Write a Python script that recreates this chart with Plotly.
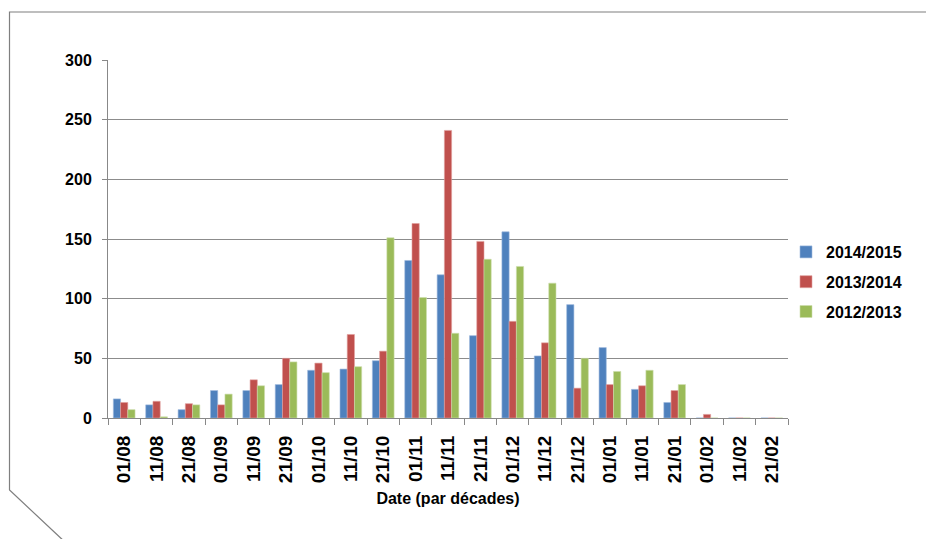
import plotly.graph_objects as go

categories = ["01/08", "11/08", "21/08", "01/09", "11/09", "21/09", "01/10", "11/10",
              "21/10", "01/11", "11/11", "21/11", "01/12", "11/12", "21/12", "01/01",
              "11/01", "21/01", "01/02", "11/02", "21/02"]
s2014_2015 = [16, 11, 7, 23, 23, 28, 40, 41, 48, 132, 120, 69, 156, 52, 95, 59, 24, 13, 0, 0, 0]
s2013_2014 = [13, 14, 12, 11, 32, 50, 46, 70, 56, 163, 241, 148, 81, 63, 25, 28, 27, 23, 3, 0, 0]
s2012_2013 = [7, 1, 11, 20, 27, 47, 38, 43, 151, 101, 71, 133, 127, 113, 50, 39, 40, 28, 0, 0, 0]
y_ticks = [0, 50, 100, 150, 200, 250, 300]

series = [("2014/2015", s2014_2015, "#4F81BD", "#9DB9DE"),
          ("2013/2014", s2013_2014, "#C0504D", "#E0A09E"),
          ("2012/2013", s2012_2013, "#9BBB59", "#CDDDAC")]

fig = go.Figure()
for name, vals, col, edge in series:
    fig.add_trace(go.Bar(x=categories, y=vals, name=name, legendgroup=name,
                         marker=dict(color=col, line=dict(color=edge, width=0.6))))

OFF = 8  # page body margin
W, H = 934, 539
# plot area in screen pixels
X0, X1, Y0, Y1 = 108, 788, 60, 418
L, T = X0 - OFF, Y0 - OFF
R = W - L - (X1 - X0)
B = H - T - (Y1 - Y0)
pw, ph = X1 - X0, Y1 - Y0

def px(x):
    return (x - X0) / pw

def py(y):
    return (Y1 - y) / ph

frame = "M {} {} L {} {} L {} {} L {} {}".format(
    px(W + 5), py(12), px(9.5), py(12), px(9.5), py(490), px(66), py(543))

FONT = "Liberation Sans, Arial, sans-serif"

fig.update_layout(
    width=W, height=H,
    margin=dict(l=L, r=R, t=T, b=B, autoexpand=False),
    paper_bgcolor="white", plot_bgcolor="white",
    barmode="group", bargap=0.33, bargroupgap=0,
    font=dict(family=FONT, color="#000000"),
    showlegend=True,
    legend=dict(x=px(786), y=py(235), xanchor="left", yanchor="top",
                font=dict(size=16, family=FONT, weight="bold"),
                tracegroupgap=6, itemwidth=30, bgcolor="rgba(0,0,0,0)"),
    xaxis=dict(type="category", tickson="boundaries", ticks="outside", ticklen=6,
               tickcolor="#888888", showline=True, linecolor="#888888", linewidth=1,
               tickangle=-90, tickfont=dict(size=19, weight="bold"), automargin=False,
               ticklabelstandoff=9,
               title=dict(text="Date (par décades)", font=dict(size=16, weight="bold"),
                          standoff=10),
               showgrid=False, range=[-0.5, 20.5]),
    yaxis=dict(range=[0, 300], tickvals=y_ticks, showgrid=True, gridcolor="#8C8C8C",
               gridwidth=1, showline=True, linecolor="#888888", linewidth=1,
               ticks="outside", ticklen=5, tickcolor="#888888", automargin=False,
               ticklabelstandoff=7,
               tickfont=dict(size=16, weight="bold"), zeroline=False),
    shapes=[dict(type="path", path=frame, xref="paper", yref="paper",
                 line=dict(color="#7F7F7F", width=1.2), layer="below")],
)

fig.write_html("out.html")
